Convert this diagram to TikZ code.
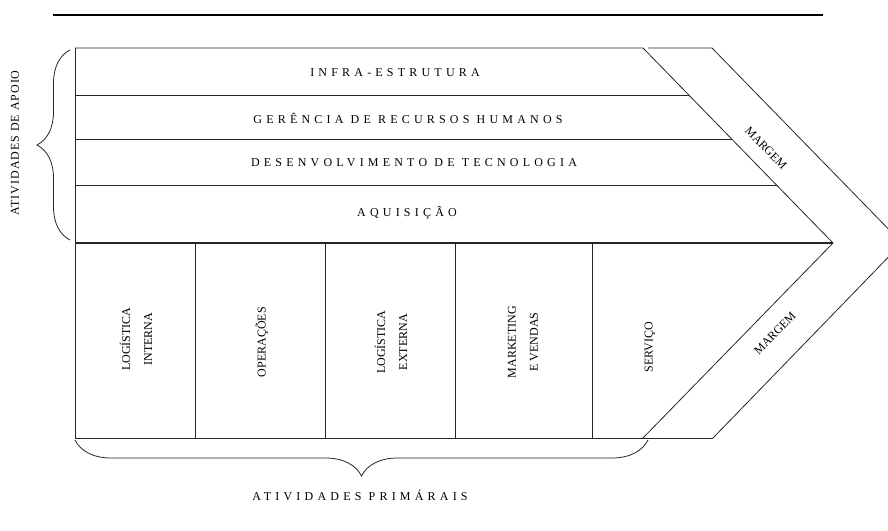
\documentclass[tikz,border=0pt]{standalone}
\usepackage{fontspec}
\setmainfont{Liberation Serif}
\newfontfamily\spacedfont[LetterSpace=35]{Liberation Serif}
\newfontfamily\lightspaced[LetterSpace=8]{Liberation Serif}
\usetikzlibrary{decorations.pathreplacing}
\begin{document}
\begin{tikzpicture}[x=1pt,y=-1pt,
  ln/.style={line width=0.8pt, black!85},
  rowlabel/.style={inner sep=0pt, font=\spacedfont\fontsize{12}{14}\selectfont},
  collabel/.style={inner sep=0pt, rotate=90, align=center, font=\fontsize{12}{22}\selectfont},
  marglabel/.style={inner sep=0pt, font=\fontsize{12}{14}\selectfont},
  bracestyle/.style={line width=0.8pt, black!85, decorate, decoration={brace, amplitude=#1}}
]
\useasboundingbox (0,0) rectangle (888,530);
\clip (0,0) rectangle (888,530);

% key points
\coordinate (TL) at (75,48);
\coordinate (BL) at (75,438);
\coordinate (IT) at (643,48);
\coordinate (TIP) at (833,243);
\coordinate (IB) at (643,438);
\coordinate (OT0) at (648,48);
\coordinate (OT) at (712,48);
\coordinate (OTIP) at (902,243);
\coordinate (OB) at (713,438);
\coordinate (ML) at (75,243);

% top rule
\coordinate (RL) at (53,15);
\coordinate (RR) at (823,15);
\draw[line width=1.6pt] (RL) -- (RR);

% main arrow shape
\draw[ln] (TL) -- (IT) -- (TIP) -- (IB);
\draw[ln] (BL) -- (OB);
\draw[ln] (TL) -- (BL);
\draw[ln] (OT0) -- (OT) -- (OTIP) -- (OB);
\draw[ln, line width=1.3pt] (ML) -- (TIP);

% support rows
\draw[ln] (75,95) -- (688.8,95);
\draw[ln] (75,139) -- (731.7,139);
\draw[ln] (75,185) -- (776.5,185);

% primary columns
\foreach \xx in {195,325,455,592}
  \draw[ln] (\xx,243) -- (\xx,438);

% braces
\draw[bracestyle=33] (70,240) -- (70,50);
\draw[bracestyle=36] (648,440) -- (75,440);

% labels
\node[rowlabel] (infra) at (395,73) {INFRA-ESTRUTURA};
\node[rowlabel] (rh) at (408,118) {GERÊNCIA DE RECURSOS HUMANOS};
\node[rowlabel] (tec) at (414,163) {DESENVOLVIMENTO DE TECNOLOGIA};
\node[rowlabel] (aq) at (407,213) {AQUISIÇÃO};

\node[collabel] (li) at (136,339) {LOGÍSTICA\\INTERNA};
\node[collabel] (op) at (262,342) {OPERAÇÕES};
\node[collabel] (le) at (391,342) {LOGÍSTICA\\EXTERNA};
\node[collabel] (mv) at (523,342) {MARKETING\\E VENDAS};
\node[collabel] (sv) at (650,347) {SERVIÇO};

\node[marglabel, rotate=-45.7] (m1) at (766,148) {MARGEM};
\node[marglabel, rotate=45.7] (m2) at (775,333) {MARGEM};

\node[inner sep=0pt, rotate=90, font=\lightspaced\fontsize{12}{14}\selectfont] (apoio) at (15,143) {ATIVIDADES DE APOIO};
\node[rowlabel] (prim) at (360,495) {ATIVIDADES PRIMÁRAIS};
\end{tikzpicture}
\end{document}
